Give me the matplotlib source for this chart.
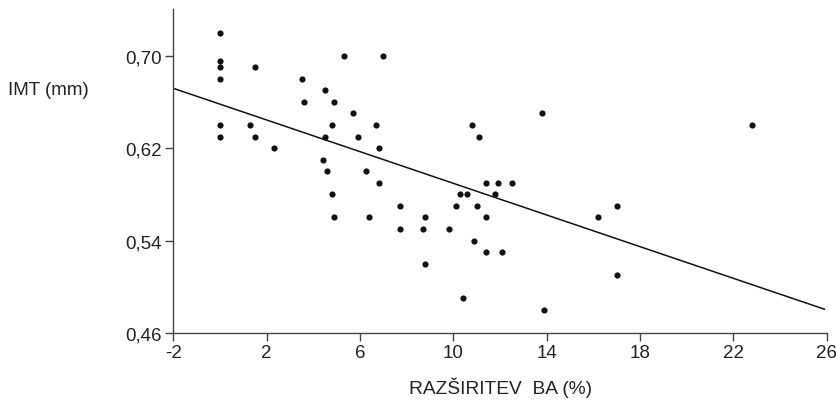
"""Scatter of IMT against brachial artery dilation with regression line."""
import numpy as np
import matplotlib.pyplot as plt

plt.rcParams['font.family'] = ['Liberation Sans', 'DejaVu Sans']

# dilation of brachial artery (%) and IMT (mm)
razsiritev = [0, 0, 0, 0, 0, 0, 1.3, 1.5, 1.5, 2.3,
              3.5, 3.6, 4.5, 4.9, 5.3, 7.0, 5.7, 4.8, 6.7, 4.5,
              5.9, 6.8, 4.4, 4.6, 6.25, 6.8, 4.8, 7.7, 4.9, 6.4,
              7.7, 13.8, 10.8, 11.1, 11.4, 11.9, 12.5, 10.3, 10.6, 11.8,
              10.1, 11.0, 17.0, 8.8, 11.4, 16.2, 8.7, 9.8, 10.9, 11.4,
              12.1, 8.8, 17.0, 10.4, 13.9, 22.8]
imt = [0.72, 0.695, 0.69, 0.68, 0.64, 0.63, 0.64, 0.69, 0.63, 0.62,
       0.68, 0.66, 0.67, 0.66, 0.70, 0.70, 0.65, 0.64, 0.64, 0.63,
       0.63, 0.62, 0.61, 0.60, 0.60, 0.59, 0.58, 0.57, 0.56, 0.56,
       0.55, 0.65, 0.64, 0.63, 0.59, 0.59, 0.59, 0.58, 0.58, 0.58,
       0.57, 0.57, 0.57, 0.56, 0.56, 0.56, 0.55, 0.55, 0.54, 0.53,
       0.53, 0.52, 0.51, 0.49, 0.48, 0.64]

# regression line as drawn in the figure
line_x = [-2, 25.9]
intercept = 0.658
slope = -0.00685

xticks = [-2, 2, 6, 10, 14, 18, 22, 26]
yticks = [0.46, 0.54, 0.62, 0.70]

fig = plt.figure(figsize=(8.37, 4.02), dpi=100)
ax = fig.add_axes([0.2071, 0.1692, 0.7806, 0.8058])

ax.scatter(razsiritev, imt, s=20, color='#111111', zorder=3, linewidths=0)
lx = np.array(line_x)
ax.plot(lx, intercept + slope * lx, color='#111111', lw=1.1)

ax.set_xlim(-2, 26)
ax.set_ylim(0.46, 0.7403)
ax.set_xticks(xticks)
ax.set_xticklabels([str(t) for t in xticks])
ax.set_yticks(yticks)
ax.set_yticklabels([f"{t:.2f}".replace('.', ',') for t in yticks])

for side in ['top', 'right']:
    ax.spines[side].set_visible(False)
for side in ['left', 'bottom']:
    ax.spines[side].set_color('#444444')
    ax.spines[side].set_linewidth(1.0)
ax.tick_params(direction='out', length=6, width=1.0, color='#444444',
               labelsize=13.5, pad=2, labelcolor='#222222')

fig.text(0.5975, 0.010, 'RAZŠIRITEV  BA (%)', ha='center', va='bottom',
         fontsize=13.8, color='#222222')
fig.text(0.009, 0.775, 'IMT (mm)', ha='left', va='center',
         fontsize=13.5, color='#222222')

fig.savefig('out.png', dpi=100)
